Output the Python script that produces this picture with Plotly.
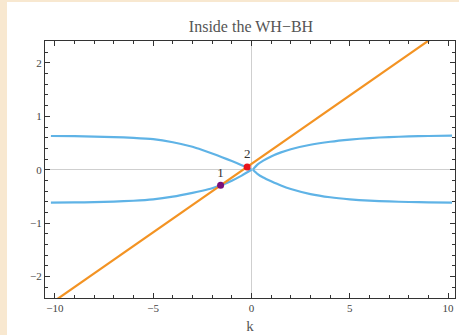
import plotly.graph_objects as go

# ---- data ----
k_left = [-10.2, -9, -8, -7, -6, -5, -4, -3, -2.5, -2, -1.5, -1, -0.5, 0.0]
y_left_upper = [0.632, 0.628, 0.622, 0.612, 0.598, 0.573, 0.515, 0.43, 0.37, 0.305, 0.235, 0.163, 0.085, 0.0]
y_left_lower = [-0.615, -0.612, -0.606, -0.596, -0.58, -0.553, -0.503, -0.432, -0.392, -0.345, -0.283, -0.205, -0.11, 0.0]

k_right = [0.07, 0.3, 0.6, 1.0, 1.5, 2.0, 3.0, 4.0, 5.0, 6.0, 7.0, 8.0, 9.0, 10.2]
y_right_upper = [0.0, 0.095, 0.17, 0.25, 0.325, 0.385, 0.468, 0.525, 0.565, 0.594, 0.612, 0.624, 0.632, 0.638]
y_right_lower = [0.0, -0.075, -0.145, -0.215, -0.295, -0.36, -0.455, -0.515, -0.553, -0.578, -0.593, -0.603, -0.61, -0.615]

k_line = [-10.5, 10.5]
y_line = [-2.58, 2.80]

pt_k = [-1.57, -0.22]
pt_y = [-0.29, 0.05]
pt_labels = ["1", "2"]
pt_colors = ["#7a0f7a", "#e8151b"]

x_ticks = [-10, -5, 0, 5, 10]
y_ticks = [-2, -1, 0, 1, 2]

BLUE = "#5fb3e6"
ORANGE = "#f39323"

fig = go.Figure()
for kk, yy in [(k_left, y_left_upper), (k_left, y_left_lower),
               (k_right, y_right_upper), (k_right, y_right_lower)]:
    fig.add_trace(go.Scatter(x=kk, y=yy, mode="lines",
                             line=dict(color=BLUE, width=2.2, shape="spline", smoothing=0.6),
                             hoverinfo="skip", showlegend=False))
fig.add_trace(go.Scatter(x=k_line, y=y_line, mode="lines",
                         line=dict(color=ORANGE, width=2.2), showlegend=False))
fig.add_trace(go.Scatter(x=pt_k, y=pt_y, mode="markers+text",
                         marker=dict(color=pt_colors, size=7),
                         text=pt_labels, textposition="top center",
                         textfont=dict(family="Liberation Serif", size=13, color="#333"),
                         showlegend=False))

axis_common = dict(
    showgrid=False, zeroline=True, zerolinecolor="#cfcfcf", zerolinewidth=1,
    showline=True, linecolor="#333", linewidth=1.2, mirror="allticks",
    ticks="inside", ticklen=5, tickcolor="#333", tickwidth=1,
    tickfont=dict(family="Liberation Serif", size=11, color="#444"),
)

fig.update_xaxes(range=[-10.5, 10.35], tickvals=x_ticks,
                 ticktext=[("\u2212" + str(-t)) if t < 0 else str(t) for t in x_ticks],
                 minor=dict(ticks="inside", dtick=1, ticklen=3, tickcolor="#333"),
                 title=dict(text="k", font=dict(family="Liberation Serif", size=15, color="#555"), standoff=7),
                 **axis_common)
fig.update_yaxes(range=[-2.4, 2.41], tickvals=y_ticks,
                 ticktext=[("\u2212" + str(-t)) if t < 0 else str(t) for t in y_ticks],
                 minor=dict(ticks="inside", dtick=0.2, ticklen=3, tickcolor="#333"),
                 **axis_common)

# white panel over beige page edge
W, H = 459, 335
ml, mr, mt, mb = 45, 4, 41, 37
pw, ph = W - ml - mr, H - mt - mb
fig.add_shape(type="rect", xref="paper", yref="paper", layer="below",
              x0=(7 - ml) / pw, x1=(W + 5 - ml) / pw,
              y0=-(mb + 5) / ph, y1=(H - mb - 2) / ph,
              fillcolor="white", line=dict(width=0))

fig.update_layout(
    width=W, height=H,
    margin=dict(l=ml, r=mr, t=mt, b=mb),
    paper_bgcolor="#f8e8d0", plot_bgcolor="white",
    title=dict(text="Inside the WH\u2212BH", x=251 / W, xanchor="center",
               y=1 - 26 / H, yanchor="middle",
               font=dict(family="Liberation Serif", size=16, color="#555")),
)

fig.write_html("out.html")
